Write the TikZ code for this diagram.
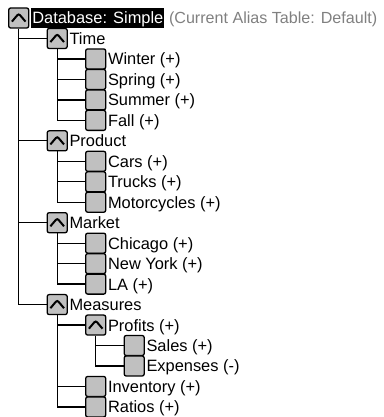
\documentclass[tikz,border=0pt]{standalone}
\usepackage{fontspec}
\setmainfont{Liberation Sans}
\definecolor{boxgray}{HTML}{C0C0C0}
\definecolor{aliasgray}{HTML}{808080}
\tikzset{
  tbox/.style={draw=black, line width=1.3pt, fill=boxgray, rounded corners=2pt,
    minimum width=20pt, minimum height=20pt, inner sep=0pt},
  caretbox/.style={tbox, path picture={
      \draw[line width=2pt, shift={(path picture bounding box.center)}]
        (-6.8,-3.6) -- (0,4.4) -- (6.8,-3.6);}},
  label/.style={anchor=west, inner sep=0pt, text height=12pt, text depth=0pt,
    font=\fontsize{16.4}{20}\selectfont},
  tree/.style={draw=black, line width=1.3pt},
}
\begin{document}
\begin{tikzpicture}[x=1pt,y=1pt]
\useasboundingbox (0,0) rectangle (383,-417);
\foreach \i/\l/\c/\txt in {
  0/0/1/{Database: Simple},
  1/1/1/{Time},
  2/2/0/{Winter (+)},
  3/2/0/{Spring (+)},
  4/2/0/{Summer (+)},
  5/2/0/{Fall (+)},
  6/1/1/{Product},
  7/2/0/{Cars (+)},
  8/2/0/{Trucks (+)},
  9/2/0/{Motorcycles (+)},
  10/1/1/{Market},
  11/2/0/{Chicago (+)},
  12/2/0/{New York (+)},
  13/2/0/{LA (+)},
  14/1/1/{Measures},
  15/2/1/{Profits (+)},
  16/3/0/{Sales (+)},
  17/3/0/{Expenses (-)},
  18/2/0/{Inventory (+)},
  19/2/0/{Ratios (+)}}{
  \pgfmathsetmacro\yy{-(18+20.47*\i)}
  \pgfmathsetmacro\xx{18.7+38.5*\l}
  \ifnum\c=1
    \node[caretbox] (b\i) at (\xx,\yy) {};
  \else
    \node[tbox] (b\i) at (\xx,\yy) {};
  \fi
  \ifnum\i=0
    \node[label, fill=black, text=white, inner xsep=1pt, inner ysep=3.7pt, xshift=1.8pt] (t\i) at (b\i.east) {\txt};
  \else
    \node[label, xshift=1.5pt] (t\i) at (b\i.east) {\txt};
  \fi
}
\node[label, text=aliasgray, font=\fontsize{16.1}{20}\selectfont, xshift=4.3pt] (alias) at (t0.east) {(Current Alias Table: Default)};
\foreach \p/\ch in {0/1,0/6,0/10,0/14,
  1/2,1/3,1/4,1/5,
  6/7,6/8,6/9,
  10/11,10/12,10/13,
  14/15,14/18,14/19,
  15/16,15/17}{
  \draw[tree] (b\p.south) |- (b\ch.west);
}
\end{tikzpicture}
\end{document}
